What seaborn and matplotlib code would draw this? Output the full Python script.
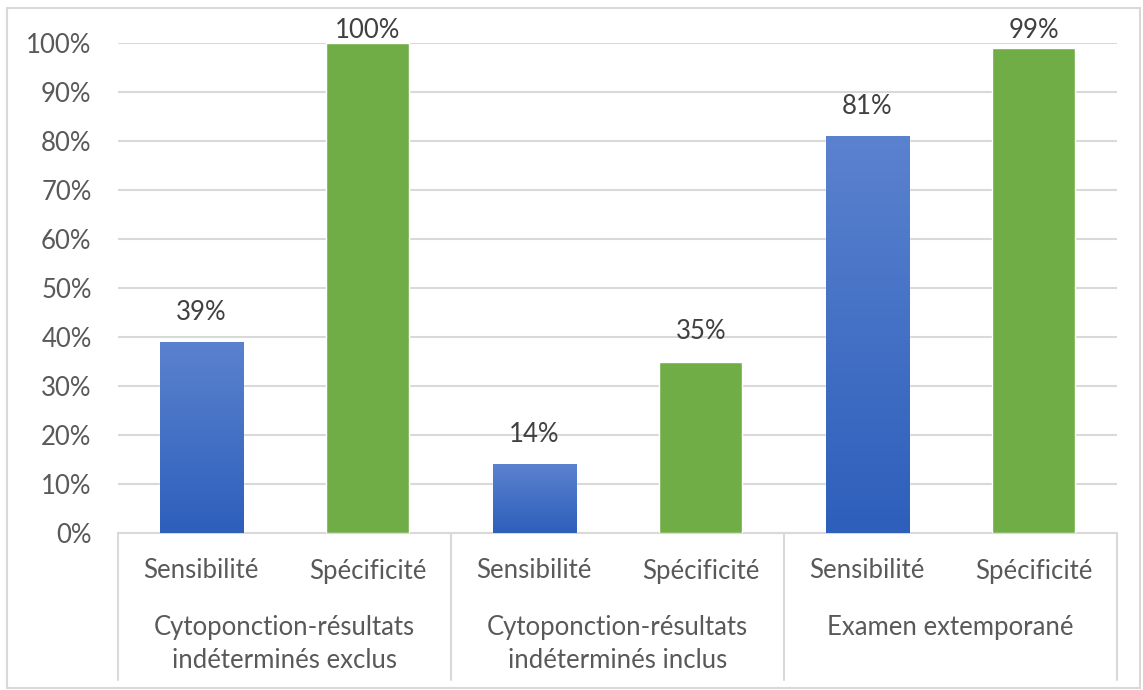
import numpy as np
import pandas as pd
import seaborn as sns
import matplotlib.pyplot as plt
from matplotlib.patches import Rectangle
from matplotlib.colors import LinearSegmentedColormap

# data
groups = [['Cytoponction-résultats', 'indéterminés exclus'],
          ['Cytoponction-résultats', 'indéterminés inclus'],
          ['Examen extemporané']]
metrics = ['Sensibilité', 'Spécificité']
sens = [39, 14, 81]
spec = [100, 35, 99]

rows = []
for g, s, p in zip(groups, sens, spec):
    name = ' '.join(g)
    rows.append({'group': name, 'metric': metrics[0], 'value': s})
    rows.append({'group': name, 'metric': metrics[1], 'value': p})
df = pd.DataFrame(rows)
df['key'] = df['group'] + '|' + df['metric']

sns.set_style('white')
plt.rcParams['font.family'] = ['Lato', 'DejaVu Sans']

fig = plt.figure(figsize=(11.43, 6.9), dpi=100)
ax = fig.add_axes([118/1143, 1 - 533/690, (1117-118)/1143, (533-43)/690])

pal = {metrics[0]: '#4472C4', metrics[1]: '#70AD47'}
sns.barplot(data=df, x='key', y='value', hue='metric', palette=pal, saturation=1,
            width=0.5, dodge=False, legend=False, ax=ax, zorder=3)

fs = 18.5
ax.set_ylim(0, 100)
ax.set_xlim(-0.5, 5.5)
ax.set_yticks(range(0, 101, 10))
ax.set_yticklabels([f'{t}%' for t in range(0, 101, 10)], color='#595959', fontsize=fs)
ax.tick_params(axis='y', length=0, pad=19)
ax.yaxis.grid(True, color='#d9d9d9', lw=1.5, zorder=0)
ax.set_axisbelow(True)
for s in ax.spines.values():
    s.set_visible(False)
ax.set_xticks([])
ax.set_xlabel('')
ax.set_ylabel('')

# gradient for the blue bars
cmap = LinearSegmentedColormap.from_list('b', ['#2D5FBB', '#5B82CF'])
grad = np.linspace(0, 1, 256).reshape(-1, 1)
for bar in ax.patches:
    h = bar.get_height()
    if h <= 0:
        continue
    x0 = bar.get_x()
    w = bar.get_width()
    if round(x0 + w / 2) % 2 == 0:
        bar.set_facecolor('none')
        im = ax.imshow(grad, cmap=cmap, origin='lower', aspect='auto',
                       extent=(x0, x0 + w, 0, h), zorder=3)
        im.set_clip_path(bar)
    # value labels
    ax.text(x0 + w / 2, min(h + 6.1, 102.6), f'{int(h)}%', ha='center', va='center',
            fontsize=fs, color='#404040', clip_on=False)

ax.set_xlim(-0.5, 5.5)
ax.set_ylim(0, 100)

# multi-level category axis
tr = ax.get_xaxis_transform()
ax.plot([-0.5, 5.5], [0, 0], color='#d9d9d9', lw=1.5, transform=tr, clip_on=False)
for xs in [-0.5, 1.5, 3.5, 5.5]:
    ax.plot([xs, xs], [0, -147/490], color='#d9d9d9', lw=1.5, transform=tr, clip_on=False)
for i in range(6):
    ax.text(i, -38/490, metrics[i % 2], ha='center', va='center', fontsize=fs,
            color='#595959', transform=tr)
for j, g in enumerate(groups):
    for k, line in enumerate(g):
        ax.text(2 * j + 0.5, -(94 + 33 * k)/490, line, ha='center', va='center', fontsize=fs,
                color='#595959', transform=tr)

# outer chart border
fig.patches.append(Rectangle((7/1143, 2/690), 1133/1143, 680/690, transform=fig.transFigure,
                             fill=False, edgecolor='#d9d9d9', lw=1.5))

fig.savefig('out.png', dpi=100)
